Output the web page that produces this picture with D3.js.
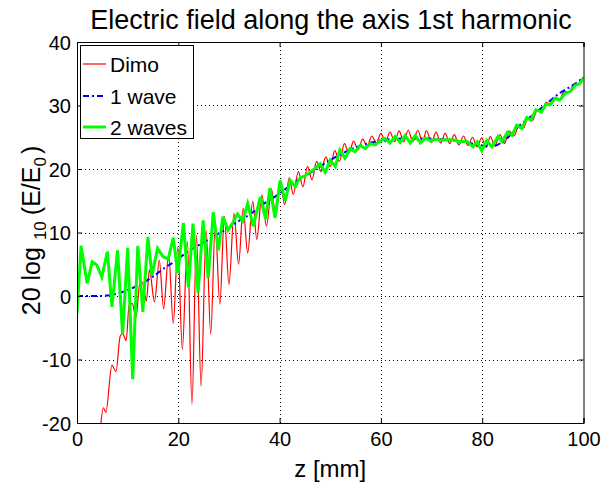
<!DOCTYPE html>
<html>
<head>
<meta charset="utf-8">
<script src="https://cdn.jsdelivr.net/npm/d3@7"></script>
<style>
	body { margin: 0; background: #fff; }
	text { font-family: 'Liberation Sans', Arial, sans-serif; fill: #000; }
</style>
</head>
<body>
<div id="chart"></div>
<script>
const title = 'Electric field along the axis 1st harmonic';
const xTicks = [0, 20, 40, 60, 80, 100];
const yTicks = [-20, -10, 0, 10, 20, 30, 40];
const seriesNames = ['Dimo', '1 wave', '2 waves'];

// [z (mm), 20 log10(E/E0)]
const dimo = [
	[4.6, -21], [5.2, -17.6], [5.7, -18.3], [6.9, -10.9], [7.7, -11.9], [8.5, -6.4], [9.0, -5.9], [9.7, -7.0],
	[10.3, -1.4], [10.9, -1.2], [11.65, -3.3], [12.4, 2.0], [12.9, 2.2], [13.7, -0.8], [14.3, 4.1], [15.3, -0.9],
	[16.25, 5.6], [17.1, -2.0], [18.1, 6.6], [19.0, -4.3], [19.9, 7.7], [20.8, -8.4], [21.8, 8.6], [22.7, -17.0],
	[23.6, 9.5], [24.5, -14.2], [25.5, 10.3], [26.4, -6.0], [27.3, 11.2], [28.2, -1.3], [29.1, 12.6], [30.0, 1.8],
	[31.0, 13.0], [31.9, 5.0], [32.8, 13.8], [33.7, 6.8], [34.7, 14.9], [35.5, 8.9], [36.5, 15.9], [37.4, 11.0],
	[38.4, 16.8], [39.2, 12.7], [40.2, 17.6], [41.0, 14.4], [41.9, 18.6], [42.7, 16.0], [43.7, 19.6], [44.6, 17.2],
	[45.5, 20.4], [46.4, 18.3], [47.3, 21.2], [48.2, 19.6], [49.1, 21.9], [50.0, 20.4], [50.9, 22.9], [51.8, 21.2],
	[52.8, 24.0], [53.7, 22.5], [54.6, 24.4], [55.5, 23.0], [56.4, 24.7], [57.3, 23.6], [58.2, 25.2], [59.1, 24.1],
	[60.0, 25.6], [60.9, 24.3], [61.8, 25.8], [62.7, 24.3], [63.6, 26.0], [64.5, 24.3], [65.4, 26.1], [66.3, 24.3],
	[67.3, 26.1], [68.2, 24.3], [69.0, 26.0], [70.0, 24.2], [70.9, 25.8], [71.8, 24.1], [72.7, 25.6], [73.6, 24.0],
	[74.5, 25.4], [75.4, 23.8], [76.3, 25.2], [77.2, 23.7], [78.1, 25.0], [79.0, 23.5], [79.9, 24.9], [80.8, 23.4],
	[81.6, 25.1], [82.5, 23.6], [83.5, 25.4], [84.4, 24.0], [85.3, 26.0], [86.3, 25.2], [87.2, 26.8], [88.1, 26.4],
	[89.0, 27.9], [89.9, 27.6], [90.8, 29.2], [91.7, 28.9], [92.6, 30.5], [93.5, 30.2], [94.4, 31.3], [95.3, 31.0],
	[96.2, 32.2], [97.1, 32.1], [98.0, 33.2], [98.9, 33.3], [99.8, 34.3], [100, 34.5],
];

const oneWave = [
	[0, 0], [4, 0], [6.4, 0.1], [8, 0.4], [10, 0.9], [11.6, 1.5], [13.3, 2.2], [14.9, 3.0], [17.6, 4.6],
	[19.6, 5.6], [20.7, 6.3], [22, 7.1], [23.8, 7.9], [25.1, 8.5], [27.1, 9.4], [28.1, 9.9], [29.8, 10.6],
	[31.5, 11.6], [33, 12.3], [34.4, 13.0], [36, 14.0], [37.2, 14.7], [39, 15.6], [40.3, 16.3], [41.9, 17.3],
	[43.9, 18.4], [45.9, 19.3], [47.8, 20.3], [49.2, 21.0], [51.1, 21.9], [53.8, 23.0], [55.7, 23.6], [57.7, 24.1],
	[60, 24.5], [62, 24.7], [65, 24.8], [68, 24.8], [71, 24.7], [74, 24.5], [76, 24.3], [78, 24.0], [80, 23.7],
	[82, 23.6], [84.7, 24.7], [87.3, 26.8], [90, 28.5], [92.6, 30.2], [95.2, 31.9], [97.9, 33.2], [100, 34.4],
];

const twoWaves = [
	[0, -2.8], [0.8, 7.9], [2.0, 2.0], [3.0, 5.4], [3.9, 4.9], [4.9, 3.0], [6.0, 7.0], [6.9, -1.7], [8.0, 7.2],
	[9.0, -6.0], [10.0, 7.6], [11.0, -13.1], [12.0, 7.9], [13.0, -2.5], [14.0, 9.3], [14.8, 3.2], [15.9, 7.5],
	[17.0, 6.2], [18.0, 5.8], [19.0, 9.2], [19.9, 3.6], [21.0, 11.5], [22.0, 1.4], [22.9, 11.4], [23.9, 0.5],
	[24.9, 11.9], [25.9, 2.8], [26.9, 13.2], [27.9, 7.2], [28.8, 12.5], [29.8, 10.4], [30.8, 11.6], [31.7, 12.9],
	[32.7, 11.8], [33.7, 14.6], [34.8, 11.0], [36.2, 15.6], [37.2, 12.2], [38.1, 17.0], [39.1, 12.3], [40.1, 18.2],
	[41.1, 15.0], [42.1, 18.2], [43.1, 17.2], [44.0, 18.6], [45.0, 18.9], [46.0, 19.5], [47.0, 20.1], [48.0, 20.8],
	[49.0, 19.5], [50.0, 21.4], [51.0, 20.4], [51.9, 23.0], [52.9, 21.7], [53.9, 23.2], [54.9, 22.7], [55.9, 23.7],
	[56.9, 23.2], [57.9, 24.0], [58.9, 23.8], [59.9, 24.4], [60.8, 24.8], [61.8, 24.1], [62.8, 25.1], [63.8, 24.2],
	[64.8, 25.3], [65.8, 24.1], [66.8, 25.3], [67.8, 24.1], [68.8, 24.9], [69.8, 24.4], [70.8, 24.7], [71.8, 24.5],
	[72.8, 24.6], [73.8, 24.6], [74.3, 24.6], [75.6, 24.3], [76.9, 24.4], [78.2, 23.5], [79.0, 24.3], [79.9, 22.9],
	[80.9, 24.5], [81.9, 23.5], [83.1, 25.1], [83.9, 24.3], [85.0, 25.8], [85.9, 25.3], [86.8, 26.9], [87.8, 26.4],
	[88.8, 28.1], [89.6, 27.7], [90.6, 29.3], [91.7, 29.0], [92.6, 30.2], [93.4, 30.1], [94.4, 31.1], [95.4, 30.9],
	[96.4, 31.9], [97.4, 32.2], [98.4, 33.2], [99.2, 33.4], [100, 34.3],
];

const width = 603;
const height = 485;
const margin = { top: 42, right: 20, bottom: 62, left: 77 };
const innerW = 506.5;
const innerH = 381;

const svg = d3.select('#chart').append('svg').attr('width', width).attr('height', height);

const x = d3.scaleLinear().domain([0, 100]).range([margin.left, margin.left + innerW]);
const y = d3.scaleLinear().domain([-20, 40]).range([margin.top + innerH, margin.top]);

// dotted grid
const grid = svg.append('g').attr('stroke', '#000').attr('stroke-dasharray', '1,3').attr('stroke-width', 1);
grid
	.selectAll('.gx')
	.data(xTicks.slice(1, -1))
	.enter()
	.append('line')
	.attr('x1', (d) => Math.round(x(d)) + 0.5)
	.attr('x2', (d) => Math.round(x(d)) + 0.5)
	.attr('y1', y(40))
	.attr('y2', y(-20));
grid
	.selectAll('.gy')
	.data(yTicks.slice(1, -1))
	.enter()
	.append('line')
	.attr('y1', (d) => Math.round(y(d)) + 0.5)
	.attr('y2', (d) => Math.round(y(d)) + 0.5)
	.attr('x1', x(0))
	.attr('x2', x(100));

svg
	.append('clipPath')
	.attr('id', 'clip')
	.append('rect')
	.attr('x', x(0))
	.attr('y', y(40))
	.attr('width', innerW)
	.attr('height', innerH);

const plot = svg.append('g').attr('clip-path', 'url(#clip)');

const smooth = d3
	.line()
	.x((d) => x(d[0]))
	.y((d) => y(d[1]))
	.curve(d3.curveMonotoneX);
const straight = d3
	.line()
	.x((d) => x(d[0]))
	.y((d) => y(d[1]));

const styles = [
	{ color: '#ff0000', width: 1.2, dash: null },
	{ color: '#0000ff', width: 2, dash: '6,3,2,3' },
	{ color: '#00ff00', width: 3, dash: null },
];

plot.append('path').datum(dimo).attr('d', smooth).attr('fill', 'none').attr('stroke', styles[0].color).attr('stroke-width', styles[0].width);
plot
	.append('path')
	.datum(oneWave)
	.attr('d', smooth)
	.attr('fill', 'none')
	.attr('stroke', styles[1].color)
	.attr('stroke-width', styles[1].width)
	.attr('stroke-dasharray', styles[1].dash);
plot
	.append('path')
	.datum(twoWaves)
	.attr('d', straight)
	.attr('fill', 'none')
	.attr('stroke', styles[2].color)
	.attr('stroke-width', styles[2].width)
	.attr('stroke-linejoin', 'miter');

// axes, MATLAB style: ticks inside on all four sides
const tickLen = 5;
const axBottom = svg.append('g').attr('transform', `translate(0,${y(-20)})`).call(d3.axisBottom(x).tickValues(xTicks).tickSize(-tickLen).tickPadding(9));
const axTop = svg.append('g').attr('transform', `translate(0,${y(40)})`).call(d3.axisTop(x).tickValues(xTicks).tickSize(-tickLen).tickFormat(''));
const axLeft = svg.append('g').attr('transform', `translate(${x(0)},0)`).call(d3.axisLeft(y).tickValues(yTicks).tickSize(-tickLen).tickPadding(6));
const axRight = svg.append('g').attr('transform', `translate(${x(100)},0)`).call(d3.axisRight(y).tickValues(yTicks).tickSize(-tickLen).tickFormat(''));

[axBottom, axTop, axLeft, axRight].forEach((g) => {
	g.select('.domain').attr('stroke', '#000').attr('stroke-width', 1);
	g.selectAll('.tick line').attr('stroke', '#000');
	g.selectAll('text').attr('font-family', "'Liberation Sans', Arial, sans-serif").attr('font-size', 20).attr('fill', '#000');
});
axLeft.selectAll('text').text((d) => (d < 0 ? '-' + Math.abs(d) : d)).attr('dy', '0.36em');

// title and labels
svg
	.append('text')
	.attr('x', 331)
	.attr('y', 29)
	.attr('text-anchor', 'middle')
	.attr('font-size', 27)
	.text(title);

svg
	.append('text')
	.attr('x', x(50))
	.attr('y', 477)
	.attr('text-anchor', 'middle')
	.attr('font-size', 24)
	.text('z [mm]');

const yl = svg
	.append('text')
	.attr('transform', `translate(40,${y(10) - 2}) rotate(-90)`)
	.attr('text-anchor', 'middle')
	.attr('font-size', 25);
yl.append('tspan').text('20 log');
yl.append('tspan').attr('font-size', 17).attr('dx', 7).attr('dy', 6).text('10');
yl.append('tspan').attr('dx', 6).attr('dy', -6).text('(E/E');
yl.append('tspan').attr('font-size', 17).attr('dy', 6).text('0');
yl.append('tspan').attr('dx', 3).attr('dy', -6).text(')');

// legend
const legend = svg.append('g');
legend
	.append('rect')
	.attr('x', 80.5)
	.attr('y', 45.5)
	.attr('width', 113)
	.attr('height', 93)
	.attr('fill', '#fff')
	.attr('stroke', '#000');
const rowY = [64, 96, 127];
seriesNames.forEach((name, i) => {
	legend
		.append('line')
		.attr('x1', 83)
		.attr('x2', 106)
		.attr('y1', rowY[i])
		.attr('y2', rowY[i])
		.attr('stroke', styles[i].color)
		.attr('stroke-width', styles[i].width)
		.attr('stroke-dasharray', styles[i].dash);
	legend
		.append('text')
		.attr('x', 110)
		.attr('y', rowY[i] + 7.5)
		.attr('font-size', 21)
		.text(name);
});
</script>
</body>
</html>
